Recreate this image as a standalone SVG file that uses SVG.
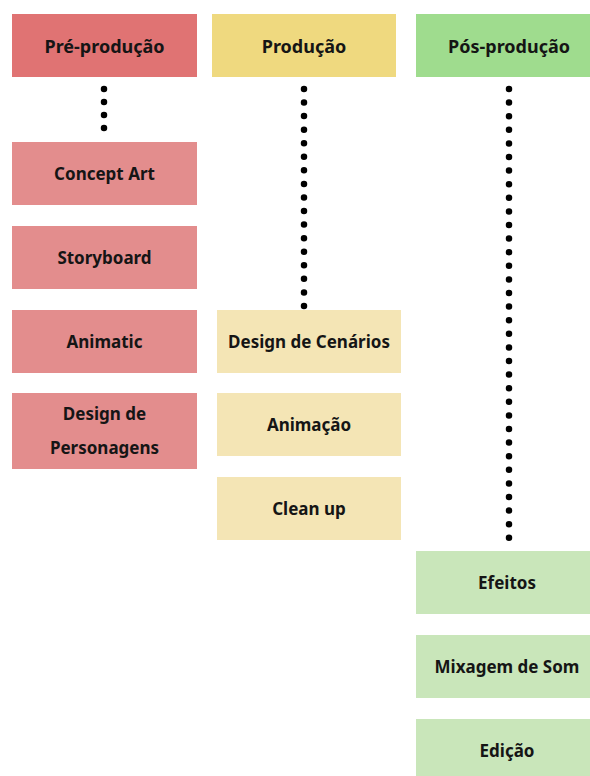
<svg xmlns="http://www.w3.org/2000/svg" width="590" height="776" viewBox="0 0 590 776">
<style>
.lbl{font-family:"Noto Sans","DejaVu Sans",sans-serif;font-weight:bold;font-size:17px;fill:#151515;text-anchor:middle;dominant-baseline:central}
.hd{font-size:18px}
.dots{stroke:#000;stroke-width:6.5;stroke-linecap:round;fill:none}
.h1{fill:#e07373}.c1{fill:#e38d8d}
.h2{fill:#efd97f}.c2{fill:#f4e5b5}
.h3{fill:#9fdc8e}.c3{fill:#c9e6ba}
</style>
<rect width="590" height="776" fill="#ffffff"/>
<g id="connectors">
<path class="dots" stroke-dasharray="0 13" d="M104,89 V129"/>
<path class="dots" stroke-dasharray="0 13.56" d="M304,89 V306"/>
<path class="dots" stroke-dasharray="0 13.6" d="M509,89 V538.5"/>
</g>
<g id="pre-producao"><rect class="h1" x="12" y="14" width="185" height="63"/><text class="lbl hd" x="104.5" y="46">Pré-produção</text></g>
<g id="producao"><rect class="h2" x="212" y="14" width="184" height="63"/><text class="lbl hd" x="304" y="46">Produção</text></g>
<g id="pos-producao"><rect class="h3" x="416" y="14" width="180" height="63"/><text class="lbl hd" x="509" y="46">Pós-produção</text></g>

<g id="concept-art"><rect class="c1" x="12" y="142" width="185" height="63"/><text class="lbl" x="104.5" y="173">Concept Art</text></g>
<g id="storyboard"><rect class="c1" x="12" y="226" width="185" height="63"/><text class="lbl" x="104.5" y="257">Storyboard</text></g>
<g id="animatic"><rect class="c1" x="12" y="310" width="185" height="63"/><text class="lbl" x="104.5" y="341">Animatic</text></g>
<g id="design-personagens"><rect class="c1" x="12" y="393" width="185" height="76"/><text class="lbl" x="104.5" y="413">Design de</text><text class="lbl" x="104.5" y="447">Personagens</text></g>

<g id="design-cenarios"><rect class="c2" x="217" y="310" width="184" height="63"/><text class="lbl" x="309" y="341">Design de Cenários</text></g>
<g id="animacao"><rect class="c2" x="217" y="393" width="184" height="63"/><text class="lbl" x="309" y="424">Animação</text></g>
<g id="clean-up"><rect class="c2" x="217" y="477" width="184" height="63"/><text class="lbl" x="309" y="508">Clean up</text></g>

<g id="efeitos"><rect class="c3" x="416" y="551" width="180" height="63"/><text class="lbl" x="507" y="582">Efeitos</text></g>
<g id="mixagem"><rect class="c3" x="416" y="635" width="180" height="63"/><text class="lbl" x="507" y="666">Mixagem de Som</text></g>
<g id="edicao"><rect class="c3" x="416" y="719" width="180" height="63"/><text class="lbl" x="507" y="750">Edição</text></g>
</svg>
